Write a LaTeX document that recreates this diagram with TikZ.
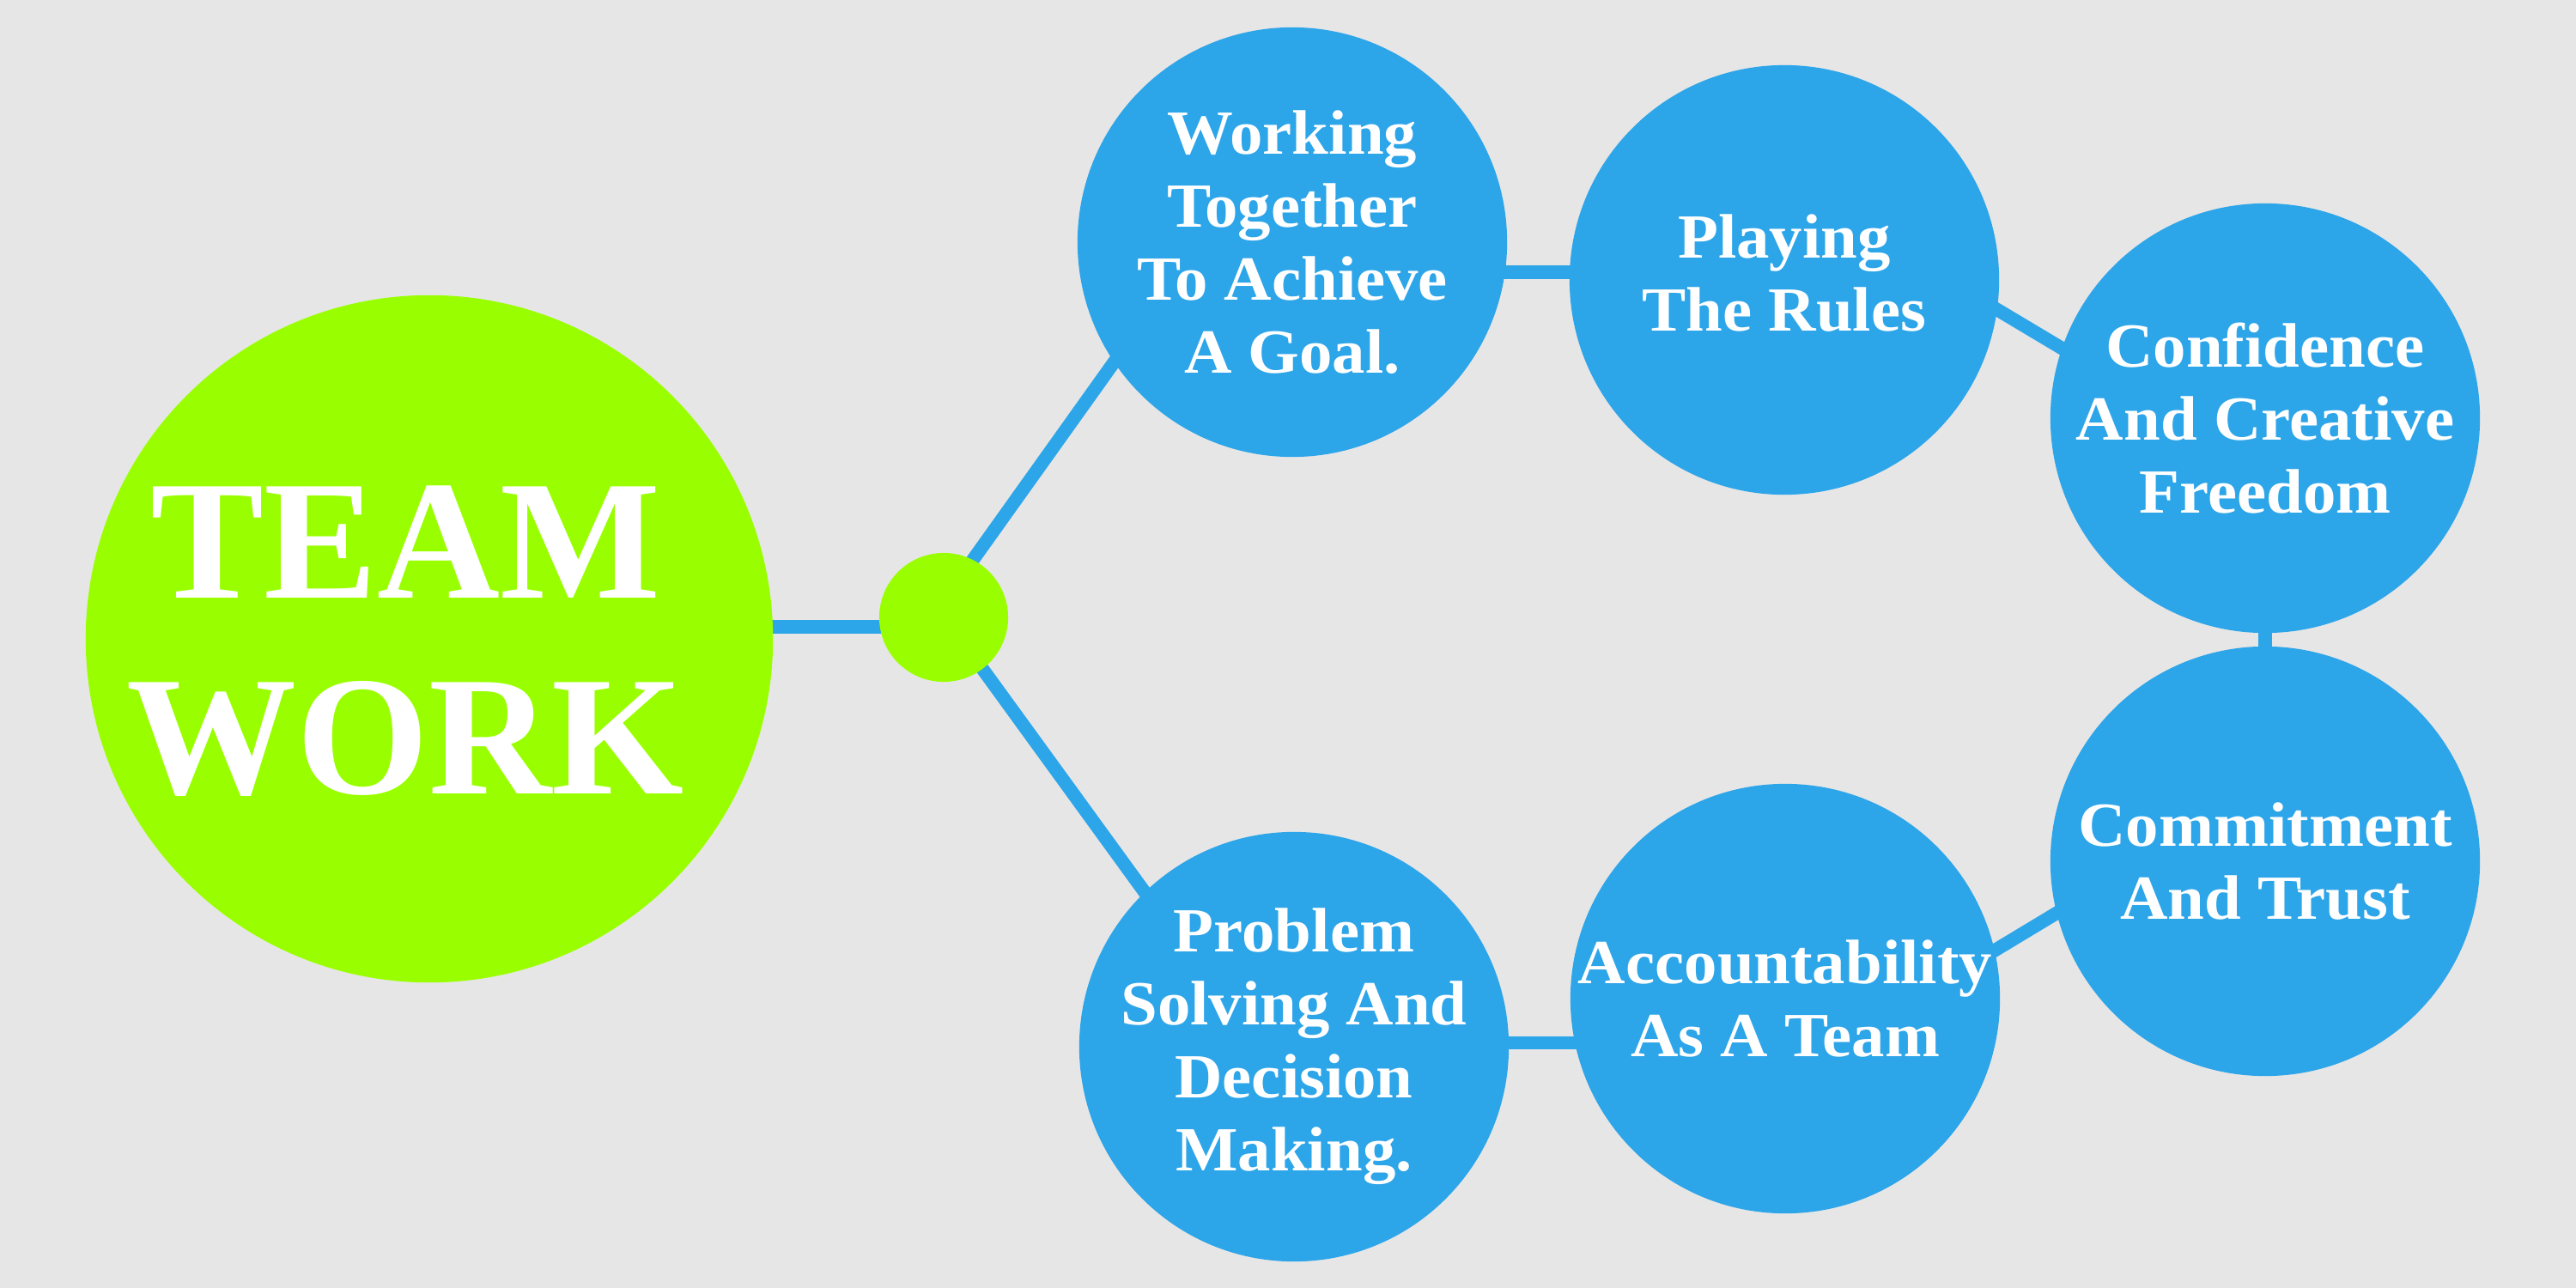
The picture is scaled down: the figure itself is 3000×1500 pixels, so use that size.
\documentclass[tikz,border=0pt]{standalone}
\usepackage{fontspec}
\setmainfont{Liberation Serif}
\newfontfamily\lblfont{Liberation Serif}[FakeStretch=1.05]
\definecolor{cbg}{HTML}{E6E6E6}
\definecolor{cgreen}{HTML}{99FF00}
\definecolor{cblue}{HTML}{2DA5E9}
\pgfdeclarelayer{bg}
\pgfdeclarelayer{lines}
\pgfsetlayers{bg,lines,main}
\begin{document}
\begin{tikzpicture}[x=0.01cm,y=-0.01cm,
  bluec/.style={circle,fill=cblue,minimum size=5cm,inner sep=0pt},
  greenc/.style={circle,fill=cgreen,inner sep=0pt},
  lbl/.style={text=white,font=\lblfont\bfseries\fontsize{20.8pt}{24.2pt}\selectfont,align=center,inner sep=0pt},
  conn/.style={draw=cblue,line width=0.155cm,shorten <=-0.08cm,shorten >=-0.08cm}]
\begin{pgfonlayer}{bg}
\fill[cbg] (0,0) rectangle (3000,1500);
\end{pgfonlayer}
\useasboundingbox (0,0) rectangle (3000,1500);

% circles
\node[greenc,minimum size=8cm] (big) at (500,744) {};
\node[greenc,minimum size=1.5cm] (dot) at (1099,719) {};
\node[bluec] (work) at (1505,282) {};
\node[bluec] (play) at (2078,326) {};
\node[bluec] (conf) at (2638,487) {};
\node[bluec] (comm) at (2638,1003) {};
\node[bluec] (acc) at (2079,1163) {};
\node[bluec] (prob) at (1507,1219) {};

% texts
\node[text=white,font=\bfseries\fontsize{56.3pt}{64.9pt}\selectfont,align=center,inner sep=0pt] (tbig) at (472,747) {TEAM\\WORK};
\node[lbl] (twork) at (1505,282) {Working\\Together\\To Achieve\\A Goal.};
\node[lbl] (tplay) at (2078,318) {Playing\\The Rules};
\node[lbl] (tconf) at (2638,487) {Confidence\\And Creative\\Freedom};
\node[lbl] (tcomm) at (2638,1003) {Commitment\\And Trust};
\node[lbl] (tacc) at (2079,1163) {Accountability\\As A Team};
\node[lbl] (tprob) at (1507,1219) {Problem\\Solving And\\Decision\\Making.};

% connectors
\begin{pgfonlayer}{lines}
\draw[conn] (big.2.9) -- (big.2.9 -| dot.west);
\draw[conn] (dot.63) -- (work.214.9);
\draw[conn] (dot.-53) -- (prob.134.4);
\draw[conn] (work.-8.3) -- (work.-8.3 -| play.west);
\draw[conn] (play.-8.7) -- (conf.161.1);
\draw[conn] (conf.south) -- (comm.north);
\draw[conn] (comm.194.1) -- (acc.13.5);
\draw[conn] (prob.1.6) -- (prob.1.6 -| acc.west);
\end{pgfonlayer}
\end{tikzpicture}
\end{document}
